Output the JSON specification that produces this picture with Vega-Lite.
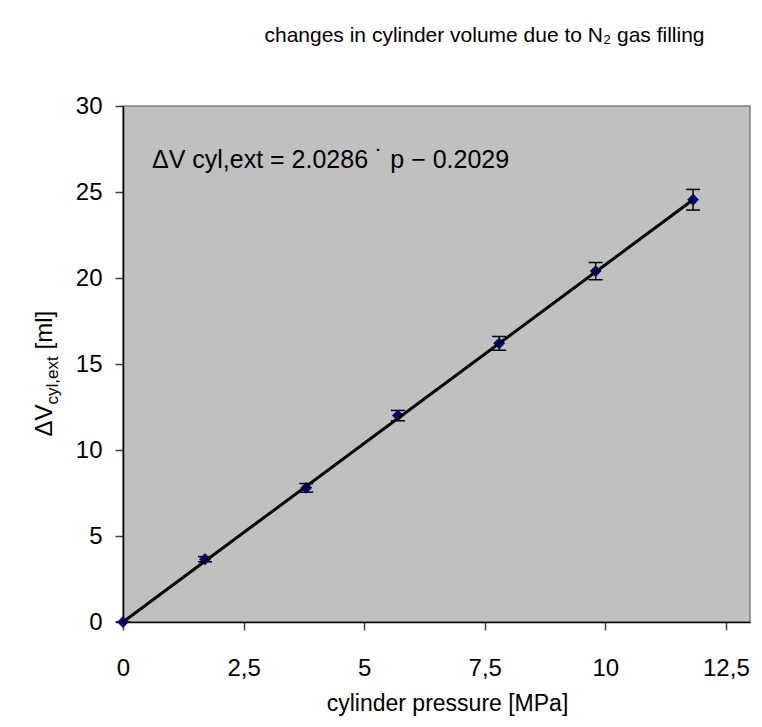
{
  "$schema": "https://vega.github.io/schema/vega-lite/v6.json",
  "width": 627,
  "height": 516,
  "autosize": {"type": "none"},
  "padding": {"left": 123, "top": 106, "right": 12, "bottom": 105},
  "background": "white",
  "title": {
    "text": "changes in cylinder volume due to N₂ gas filling",
    "font": "Liberation Sans",
    "fontSize": 21,
    "fontWeight": "normal",
    "color": "black",
    "anchor": "middle",
    "baseline": "alphabetic",
    "dx": 48,
    "offset": 31
  },
  "config": {
    "view": {"fill": "#C0C0C0", "stroke": "#808080", "strokeWidth": 1.5},
    "font": "Liberation Sans",
    "axis": {
      "grid": false,
      "labelFlush": false,
      "domainColor": "black",
      "domainWidth": 1.5,
      "tickColor": "#404040",
      "tickWidth": 1.5,
      "tickSize": 8,
      "labelFont": "Liberation Sans",
      "labelFontSize": 24,
      "labelColor": "black",
      "titleFont": "Liberation Sans",
      "titleFontSize": 23,
      "titleFontWeight": "normal",
      "titleColor": "black"
    }
  },
  "resolve": {"scale": {"y": "shared"}, "axis": {"y": "independent"}},
  "datasets": {
    "pts": [
      {"p": 0, "dv": 0, "lo": 0, "hi": 0},
      {"p": 1.7, "dv": 3.65, "lo": 3.5, "hi": 3.8},
      {"p": 3.8, "dv": 7.8, "lo": 7.55, "hi": 8.05},
      {"p": 5.7, "dv": 12.0, "lo": 11.7, "hi": 12.3},
      {"p": 7.8, "dv": 16.2, "lo": 15.8, "hi": 16.6},
      {"p": 9.8, "dv": 20.4, "lo": 19.9, "hi": 20.9},
      {"p": 11.82, "dv": 24.55, "lo": 23.95, "hi": 25.15}
    ],
    "fit": [
      {"p": 0, "dv": 0},
      {"p": 11.82, "dv": 24.55}
    ],
    "eq": [
      {"p": 0.6, "dv": 26.4, "label": "ΔV cyl,ext = 2.0286 ˙ p − 0.2029"}
    ]
  },
  "layer": [
    {
      "data": {"name": "pts"},
      "mark": {"type": "rule", "color": "black", "strokeWidth": 1.5},
      "encoding": {
        "x": {
          "field": "p", "type": "quantitative",
          "scale": {"domain": [0, 13], "nice": false, "zero": false},
          "axis": {
            "values": [0, 2.5, 5, 7.5, 10, 12.5],
            "format": ".1~f",
            "labelExpr": "replace(datum.label, '.', ',')",
            "labelBaseline": "alphabetic",
            "labelPadding": 45,
            "title": "cylinder pressure [MPa]",
            "titleX": 324,
            "titleY": 88,
            "titleBaseline": "alphabetic"
          }
        },
        "y": {
          "field": "lo", "type": "quantitative",
          "scale": {"domain": [0, 30], "nice": false},
          "axis": {
            "orient": "left",
            "values": [0, 5, 10, 15, 20, 25, 30],
            "labelPadding": 13,
            "title": "ΔV",
            "titleFontSize": 24,
            "titleX": -72,
            "titleY": 330,
            "titleAngle": -90,
            "titleBaseline": "alphabetic",
            "titleAlign": "left"
          }
        },
        "y2": {"field": "hi"}
      }
    },
    {
      "data": {"name": "pts"},
      "mark": {"type": "tick", "orient": "horizontal", "color": "black", "size": 14, "thickness": 1.5, "opacity": 1},
      "encoding": {
        "x": {"field": "p", "type": "quantitative"},
        "y": {
          "field": "lo", "type": "quantitative",
          "axis": {
            "orient": "left",
            "labels": false, "ticks": false, "domain": false,
            "title": "cyl,ext",
            "titleFontSize": 17,
            "titleX": -66,
            "titleY": 298,
            "titleAngle": -90,
            "titleBaseline": "alphabetic",
            "titleAlign": "left"
          }
        }
      }
    },
    {
      "data": {"name": "pts"},
      "mark": {"type": "tick", "orient": "horizontal", "color": "black", "size": 14, "thickness": 1.5, "opacity": 1},
      "encoding": {
        "x": {"field": "p", "type": "quantitative"},
        "y": {
          "field": "hi", "type": "quantitative",
          "axis": {
            "orient": "left",
            "labels": false, "ticks": false, "domain": false,
            "title": "[ml]",
            "titleFontSize": 24,
            "titleX": -72,
            "titleY": 243,
            "titleAngle": -90,
            "titleBaseline": "alphabetic",
            "titleAlign": "left"
          }
        }
      }
    },
    {
      "data": {"name": "pts"},
      "mark": {"type": "point", "shape": "diamond", "filled": true, "color": "#000080", "size": 140, "opacity": 1},
      "encoding": {
        "x": {"field": "p", "type": "quantitative"},
        "y": {"field": "dv", "type": "quantitative", "axis": null}
      }
    },
    {
      "data": {"name": "fit"},
      "mark": {"type": "line", "color": "black", "strokeWidth": 3},
      "encoding": {
        "x": {"field": "p", "type": "quantitative"},
        "y": {"field": "dv", "type": "quantitative", "axis": null}
      }
    },
    {
      "data": {"name": "eq"},
      "mark": {"type": "text", "align": "left", "baseline": "alphabetic", "fontSize": 25, "color": "black", "font": "Liberation Sans"},
      "encoding": {
        "x": {"field": "p", "type": "quantitative"},
        "y": {"field": "dv", "type": "quantitative", "axis": null},
        "text": {"field": "label"}
      }
    }
  ]
}
